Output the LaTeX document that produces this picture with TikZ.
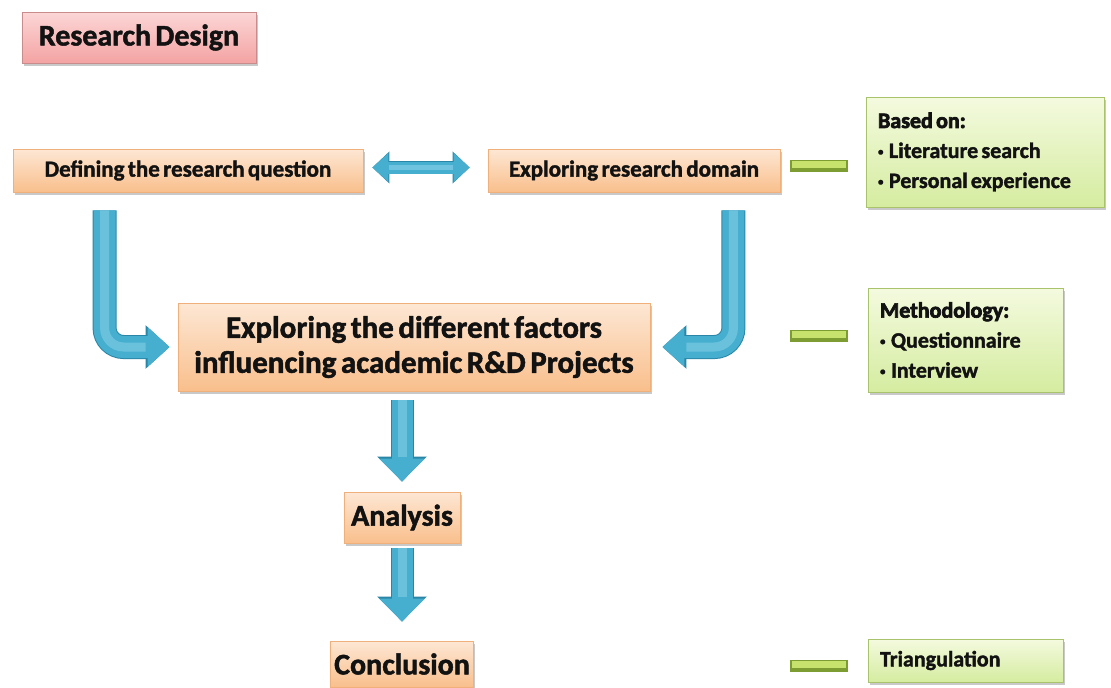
\documentclass[tikz,border=0pt]{standalone}
\usepackage{fontspec}
\setmainfont{Carlito}[WordSpace=0.65, BoldFeatures={FakeBold=1.6}]
\newfontfamily\heavyfont{Carlito}[WordSpace=0.65, UprightFont=*-Bold, FakeBold=3.2]
\usetikzlibrary{shadows,calc,arrows.meta}

\definecolor{oTop}{HTML}{FDE7D4}
\definecolor{oBot}{HTML}{F9BF8C}
\definecolor{oLine}{HTML}{F0B07C}
\definecolor{pTop}{HTML}{FCD6D6}
\definecolor{pBot}{HTML}{F4A3A3}
\definecolor{pLine}{HTML}{C98C8C}
\definecolor{gTop}{HTML}{F4FADF}
\definecolor{gBot}{HTML}{D5ECA0}
\definecolor{gLine}{HTML}{A8C36C}
\definecolor{bDark}{HTML}{2A86A6}
\definecolor{bMid}{HTML}{46AFD0}
\definecolor{bLight}{HTML}{A2DDF0}
\definecolor{barLight}{HTML}{C8E26E}
\definecolor{barDark}{HTML}{7D9D33}
\definecolor{ink}{HTML}{121212}

\newcommand{\smallbul}{\raisebox{0.12em}{\fontsize{11}{11}\selectfont•}\hspace{0.25em}}
\newcommand{\boxhead}[1]{{\heavyfont #1}}

\tikzset{
  box/.style={rectangle, draw, line width=0.8pt, text=ink, font=\bfseries,
    drop shadow={shadow xshift=1.5pt, shadow yshift=-2.5pt, opacity=0.35, fill=black!60}},
  obox/.style={box, draw=oLine, top color=oTop, bottom color=oBot},
  pbox/.style={box, draw=pLine, top color=pTop, bottom color=pBot},
  gbox/.style={box, draw=gLine, top color=gTop, bottom color=gBot,
    align=flush left, inner xsep=12pt, font=\bfseries\fontsize{22}{30}\selectfont},
  bigarrow/.style={line width=22pt, draw=bMid,
    -{Triangle[width=38pt,length=22pt]},
    preaction={draw=bDark, line width=24pt, arrows={-Triangle[width=42pt,length=24pt]}},
    postaction={draw=bLight, line width=9pt, opacity=0.4, arrows=-, shorten >=24pt}},
  downarrow/.style={line width=21pt, draw=bMid,
    -{Triangle[width=44pt,length=23pt]},
    preaction={draw=bDark, line width=23pt, arrows={-Triangle[width=48pt,length=25pt]}},
    postaction={draw=bLight, line width=9pt, opacity=0.4, arrows=-, shorten >=25pt}},
  twoway/.style={line width=12pt, draw=bMid,
    {Triangle[width=28pt,length=16pt]}-{Triangle[width=28pt,length=16pt]},
    preaction={draw=bDark, line width=13.5pt, arrows={Triangle[width=31pt,length=17pt]-Triangle[width=31pt,length=17pt]}},
    postaction={draw=bLight, line width=5pt, opacity=0.45, arrows=-, shorten >=17pt, shorten <=17pt}},
  greenbar/.style={line width=12pt, draw=barDark,
    postaction={draw=barLight, line width=7pt, transform canvas={yshift=1.5pt}, shorten <=2pt, shorten >=2pt}}
}

\begin{document}
\begin{tikzpicture}[x=1pt,y=-1pt]
\useasboundingbox (0,0) rectangle (1111,688);
\fill[white] (0,0) rectangle (1111,688);

% title
\node[pbox, minimum width=234, minimum height=51, font=\bfseries\fontsize{30}{32}\selectfont] (title) at (139,37.5) {Research Design};

% first row
\node[obox, minimum width=350, minimum height=43, font=\bfseries\fontsize{23}{25}\selectfont] (defq) at (188,170.5) {Defining the research question};
\node[obox, minimum width=292, minimum height=43, font=\bfseries\fontsize{23}{25}\selectfont] (dom) at (634,170.5) {Exploring research domain};
\node[gbox, minimum width=238, minimum height=110, text width=214] (based) at (985,152) {\boxhead{Based on:}\\ \smallbul Literature search\\ \smallbul Personal experience};

% central step
\node[obox, minimum width=472, minimum height=88, align=center, font=\bfseries\fontsize{31}{35}\selectfont] (big) at (414,347) {Exploring the different factors\\ influencing academic R\&D Projects};
\node[gbox, minimum width=195, minimum height=104, text width=171] (meth) at (965.5,340) {\boxhead{Methodology:}\\ \smallbul Questionnaire\\ \smallbul Interview};

% lower steps
\node[obox, minimum width=116, minimum height=51, font=\bfseries\fontsize{30}{32}\selectfont] (ana) at (402,517.5) {Analysis};
\node[obox, minimum width=140, minimum height=46, font=\bfseries\fontsize{30}{32}\selectfont] (conc) at (402,664) {Conclusion};
\node[gbox, minimum width=195, minimum height=43, text width=171] (tri) at (965.5,660.5) {Triangulation};

% block arrows
\draw[twoway] ($(defq.east)+(9,-3)$) -- ($(dom.west)+(-18,-3)$);
\draw[bigarrow, rounded corners=19pt] ($(defq.south west)+(92,18)$) |- ($(big.west)+(-8,0)$);
\draw[bigarrow, rounded corners=19pt] ($(dom.south east)+(-47,18)$) |- ($(big.east)+(12,0)$);
\draw[downarrow] ($(big.south -| ana.north)+(0,9)$) -- ($(ana.north)+(0,-10)$);
\draw[downarrow] ($(ana.south)+(0,5)$) -- ($(conc.north)+(0,-19)$);

% green links
\draw[greenbar] ($(dom.east)+(10,-4.5)$) -- ($(dom.east)+(68,-4.5)$);
\draw[greenbar] ($(meth.west)+(-78,-4)$) -- ($(meth.west)+(-20,-4)$);
\draw[greenbar] ($(tri.west)+(-78,5.5)$) -- ($(tri.west)+(-20,5.5)$);
\end{tikzpicture}
\end{document}
